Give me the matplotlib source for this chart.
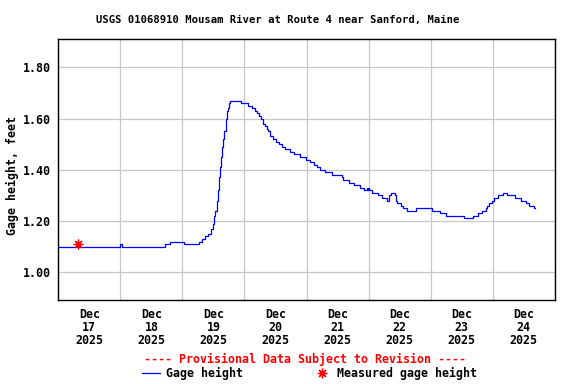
import matplotlib
matplotlib.use("Agg")
import matplotlib.pyplot as plt
from matplotlib.lines import Line2D
import pandas as pd

# gage height, read off the USGS plot as step breakpoints
# (hours after Dec 17 2025 00:00, feet)
hours = [0, 23.75, 24.5, 41.25, 43.25, 48.5, 54.25, 55.75, 56.75, 58.0,
         59.0, 59.75, 60.25, 60.75, 61.25, 61.75, 62.25, 62.5, 63.0, 63.5,
         63.75, 64.25, 64.75, 65.25, 65.5, 66.0, 66.5, 70.5, 73.5, 75.0,
         76.25, 76.75, 77.5, 78.25, 79.0, 80.0, 80.75, 81.25, 82.0, 83.0,
         84.25, 85.5, 86.5, 87.75, 89.5, 91.25, 93.5, 95.75, 97.25, 99.0,
         100.0, 101.25, 103.25, 105.75, 109.75, 110.25, 112.25, 114.5, 116.5, 118.25,
         119.5, 119.75, 120.0, 120.25, 121.25, 123.5, 125.25, 127.0, 128.0, 128.5,
         130.25, 130.5, 131.0, 132.5, 133.5, 135.0, 138.25, 144.5, 147.5, 150.0,
         157.0, 160.5, 162.5, 164.0, 165.25, 165.75, 166.75, 167.75, 168.5, 170.0,
         172.0, 173.5, 176.75, 179.0, 180.75, 182.25, 184.0, 184.5]
gage = [1.10, 1.11, 1.10, 1.11, 1.12, 1.11, 1.12, 1.13, 1.14, 1.15,
        1.17, 1.19, 1.22, 1.24, 1.28, 1.32, 1.37, 1.41, 1.45, 1.49,
        1.52, 1.55, 1.60, 1.63, 1.64, 1.66, 1.67, 1.66, 1.65, 1.64,
        1.63, 1.62, 1.61, 1.60, 1.58, 1.57, 1.56, 1.55, 1.53, 1.52,
        1.51, 1.50, 1.49, 1.48, 1.47, 1.46, 1.45, 1.44, 1.43, 1.42,
        1.41, 1.40, 1.39, 1.38, 1.37, 1.36, 1.35, 1.34, 1.33, 1.32,
        1.33, 1.32, 1.33, 1.32, 1.31, 1.30, 1.29, 1.28, 1.30, 1.31,
        1.30, 1.28, 1.27, 1.26, 1.25, 1.24, 1.25, 1.24, 1.23, 1.22,
        1.21, 1.22, 1.23, 1.24, 1.25, 1.26, 1.27, 1.28, 1.29, 1.30,
        1.31, 1.30, 1.29, 1.28, 1.27, 1.26, 1.25, 1.25]

meas_hours = [7.7]
meas_gage = [1.11]

yticks = [1.00, 1.20, 1.40, 1.60, 1.80]
start = pd.Timestamp("2025-12-17 00:00")
end = pd.Timestamp("2025-12-25 00:00")

t = [start + pd.Timedelta(hours=h) for h in hours]
tm = [start + pd.Timedelta(hours=h) for h in meas_hours]

plt.rcParams["font.family"] = "DejaVu Sans Mono"
plt.rcParams["font.weight"] = "bold"

fig = plt.figure(figsize=(5.76, 3.84), dpi=100)
ax = fig.add_axes([58.3 / 576, 84 / 384, 496.4 / 576, 260.7 / 384])

ax.plot(t, gage, color="#0000ff", lw=0.9, drawstyle="steps-post")
ax.plot(tm, meas_gage, ls="none", marker=(8, 2, 0), ms=7, mew=0.9, color="#ff0000")

ax.set_xlim(start, end)
ax.set_ylim(0.892, 1.909)
ax.set_yticks(yticks)
ax.set_yticklabels(["%.2f" % v for v in yticks])

# gridlines at midnight, date labels at noon
days = pd.date_range(start, end, freq="D")
ax.set_xticks(days)
ax.set_xticklabels([])
noons = [d + pd.Timedelta(hours=12) for d in days[:-1]]
ax.set_xticks(noons, minor=True)
ax.set_xticklabels(["Dec\n%d\n%d" % (d.day, d.year) for d in noons],
                   minor=True, linespacing=0.97)

ax.tick_params(axis="both", which="both", length=0, labelsize=8.4)
ax.tick_params(axis="y", pad=5)
ax.tick_params(axis="x", which="minor", pad=6)
ax.grid(True, which="major", color="#c8c8c8", lw=0.9)
ax.set_axisbelow(True)
for s in ax.spines.values():
    s.set_linewidth(1.0)
    s.set_color("black")

fig.text(277.5 / 576, 1 - 20 / 384, "USGS 01068910 Mousam River at Route 4 near Sanford, Maine",
         ha="center", va="center", fontsize=7.6, fontweight="bold")
fig.text(12 / 576, 1 - 175 / 384, "Gage height, feet", rotation=90,
         ha="center", va="center", fontsize=8.4, fontweight="bold")
fig.text(305.5 / 576, 1 - 359 / 384, "---- Provisional Data Subject to Revision ----",
         ha="center", va="center", fontsize=8.4, fontweight="bold", color="#ff0000")

# legend row
ly = 1 - 373 / 384
fig.add_artist(Line2D([142.3 / 576, 160 / 576], [ly, ly], transform=fig.transFigure,
                      color="#0000ff", lw=0.9))
fig.text(165.7 / 576, ly, "Gage height", ha="left", va="center", fontsize=8.4, fontweight="bold")
fig.add_artist(Line2D([322.3 / 576], [ly], transform=fig.transFigure, ls="none",
                      marker=(8, 2, 0), ms=7, mew=0.9, color="#ff0000"))
fig.text(336.7 / 576, ly, "Measured gage height", ha="left", va="center", fontsize=8.4,
         fontweight="bold")

fig.savefig("out.png", dpi=100)
